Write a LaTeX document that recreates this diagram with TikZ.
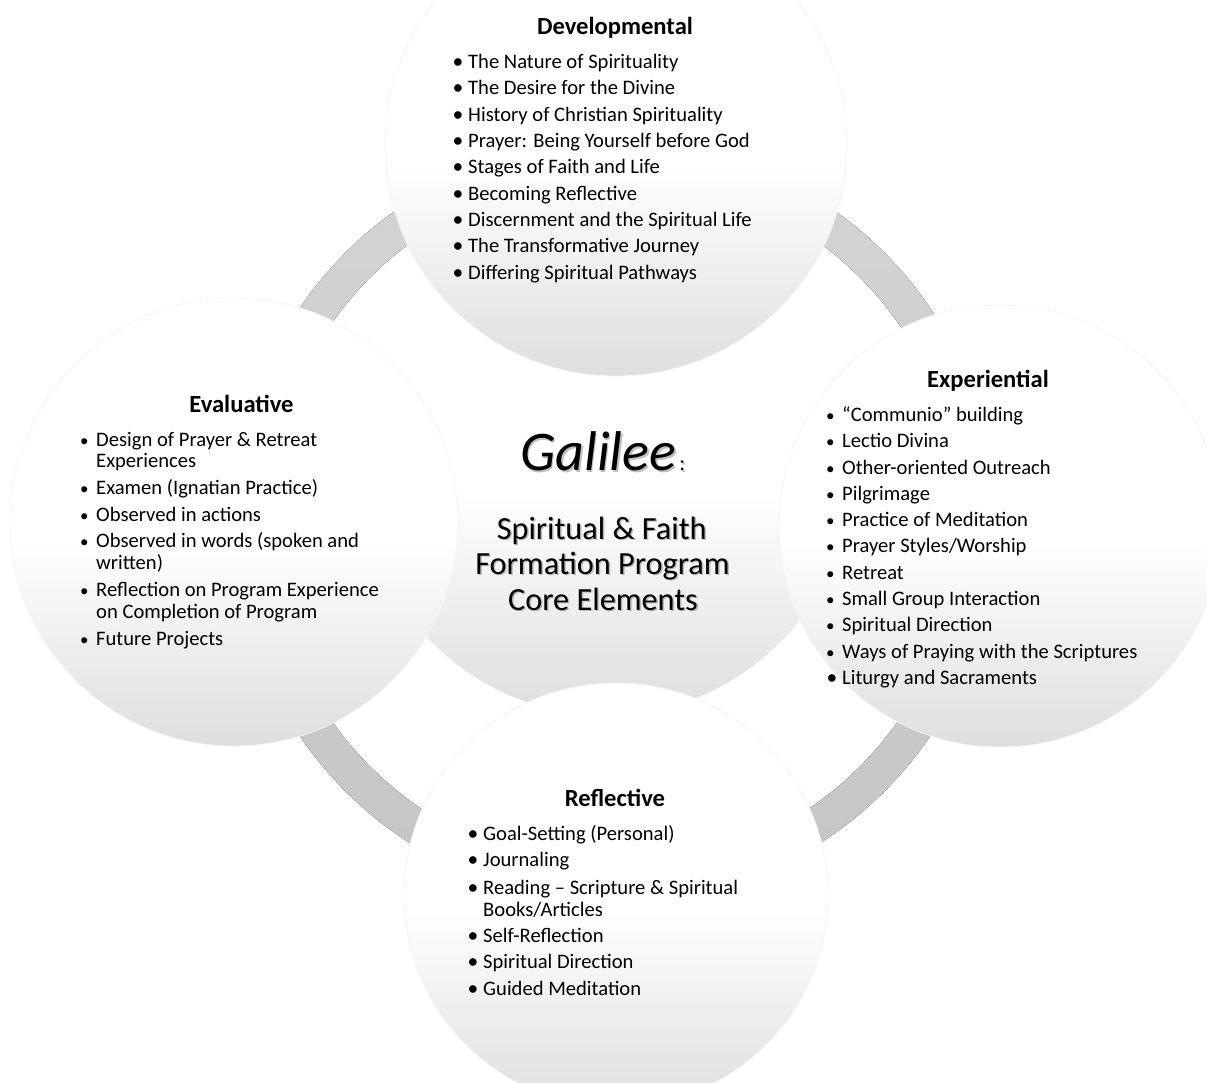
\documentclass[tikz,border=0pt]{standalone}
\usepackage{fontspec}
\setmainfont{Carlito}
\definecolor{cbot}{RGB}{222,222,222}
\definecolor{ringtop}{RGB}{212,212,212}
\definecolor{ringbot}{RGB}{197,197,197}
\definecolor{edgec}{RGB}{244,244,244}
\pgfdeclareverticalshading{bubbleshade}{100bp}{color(0bp)=(cbot); color(25bp)=(cbot); color(48bp)=(white); color(100bp)=(white)}
\newcommand\bD{\llap{\makebox[15.5pt][l]{\fontsize{21.5}{21.5}\selectfont •}}}
\newcommand\bE{\llap{\makebox[16pt][l]{\fontsize{17}{17}\selectfont •}}}
\begin{document}
\begin{tikzpicture}[x=1pt,y=-1pt,
  bubble/.style={circle, inner sep=0pt, draw=edgec, line width=0.8pt, shading=bubbleshade},
  head/.style={anchor=base, inner sep=0pt, font=\fontsize{24.6}{24.6}\selectfont\bfseries},
  li/.style={anchor=base west, inner sep=0pt, font=\fontsize{20.6}{20.6}\selectfont},
  ctr/.style={anchor=base, inner sep=0pt, font=\fontsize{32.3}{32.3}\selectfont},
  shd/.style={text=black!55, opacity=0.45}]
\useasboundingbox (0,0) rectangle (1207,1082);
\clip (0,0) rectangle (1207,1082);
\fill[white] (0,0) rectangle (1207,1082);
% ring
\fill[even odd rule, top color=ringtop, bottom color=ringbot]
  (615,522) circle[radius=381pt] (615,522) circle[radius=346pt];
% circles
\node[bubble, draw=none, minimum size=490pt] (cc) at (606,470) {};
\node[bubble, minimum size=448pt] (lc) at (234,522) {};
\node[bubble, minimum size=442pt] (rc) at (1000,526) {};
\node[bubble, minimum size=424pt] (bc) at (616,895) {};
\node[bubble, minimum size=462pt] (tc) at (616,145) {};

% Developmental
\node[head] (devh) at (615,34.3) {Developmental};
\node[li] (d1) at (468,68.3) {\bD The Nature of Spirituality};
\node[li] (d2) at (468,94.7) {\bD The Desire for the Divine};
\node[li] (d3) at (468,121.0) {\bD History of Christian Spirituality};
\node[li] (d4) at (468,147.4) {\bD Prayer: Being Yourself before God};
\node[li] (d5) at (468,173.8) {\bD Stages of Faith and Life};
\node[li] (d6) at (468,200.1) {\bD Becoming Reflective};
\node[li] (d7) at (468,226.5) {\bD Discernment and the Spiritual Life};
\node[li] (d8) at (468,252.9) {\bD The Transformative Journey};
\node[li] (d9) at (468,279.3) {\bD Differing Spiritual Pathways};

% Evaluative
\node[head] (evh) at (241.5,412) {Evaluative};
\node[li] (e1) at (96,446.4) {\bE Design of Prayer \& Retreat};
\node[li] (e1b) at (96,467.9) {Experiences};
\node[li] (e2) at (96,494.6) {\bE Examen (Ignatian Practice)};
\node[li] (e3) at (96,521.4) {\bE Observed in actions};
\node[li] (e4) at (96,547) {\bE Observed in words (spoken and};
\node[li] (e4b) at (96,569.6) {written)};
\node[li] (e5) at (96,596.4) {\bE Reflection on Program Experience};
\node[li] (e5b) at (96,618.6) {on Completion of Program};
\node[li] (e6) at (96,645.7) {\bE Future Projects};

% Experiential
\node[head] (exh) at (988,387.5) {Experiential};
\node[li] (x1) at (842,421.4) {\bE “Communio” building};
\node[li] (x2) at (842,447.7) {\bE Lectio Divina};
\node[li] (x3) at (842,474.0) {\bE Other-oriented Outreach};
\node[li] (x4) at (842,500.3) {\bE Pilgrimage};
\node[li] (x5) at (842,526.6) {\bE Practice of Meditation};
\node[li] (x6) at (842,552.9) {\bE Prayer Styles/Worship};
\node[li] (x7) at (842,579.2) {\bE Retreat};
\node[li] (x8) at (842,605.5) {\bE Small Group Interaction};
\node[li] (x9) at (842,631.8) {\bE Spiritual Direction};
\node[li] (x10) at (842,658.1) {\bE Ways of Praying with the Scriptures};
\node[li] (x11) at (842,684.4) {\bD Liturgy and Sacraments};

% Reflective
\node[head] (reh) at (615,806.7) {Reflective};
\node[li] (r1) at (483,840) {\bD Goal-Setting (Personal)};
\node[li] (r2) at (483,866.7) {\bD Journaling};
\node[li] (r3) at (483,894) {\bD Reading – Scripture \& Spiritual};
\node[li] (r3b) at (483,916) {Books/Articles};
\node[li] (r4) at (483,942.7) {\bD Self-Reflection};
\node[li] (r5) at (483,968.3) {\bD Spiritual Direction};
\node[li] (r6) at (483,995) {\bD Guided Meditation};

% centre title with shadow
\node[anchor=base west, inner sep=0pt, shd] (gals) at (521.5,472.2) {\fontsize{56}{56}\selectfont\itshape Galilee\/\hspace{3pt}\fontsize{22}{22}\selectfont\upshape :};
\node[anchor=base west, inner sep=0pt] (gal) at (520,470.7) {\fontsize{56}{56}\selectfont\itshape Galilee\/\hspace{3pt}\fontsize{22}{22}\selectfont\upshape :};
\node[ctr, shd] (c1s) at (603.2,540.8) {Spiritual \& Faith};
\node[ctr, shd] (c2s) at (604,575.8) {Formation Program};
\node[ctr, shd] (c3s) at (604.5,611.5) {Core Elements};
\node[ctr] (c1) at (601.7,539.3) {Spiritual \& Faith};
\node[ctr] (c2) at (602.5,574.3) {Formation Program};
\node[ctr] (c3) at (603,610) {Core Elements};
\end{tikzpicture}
\end{document}
